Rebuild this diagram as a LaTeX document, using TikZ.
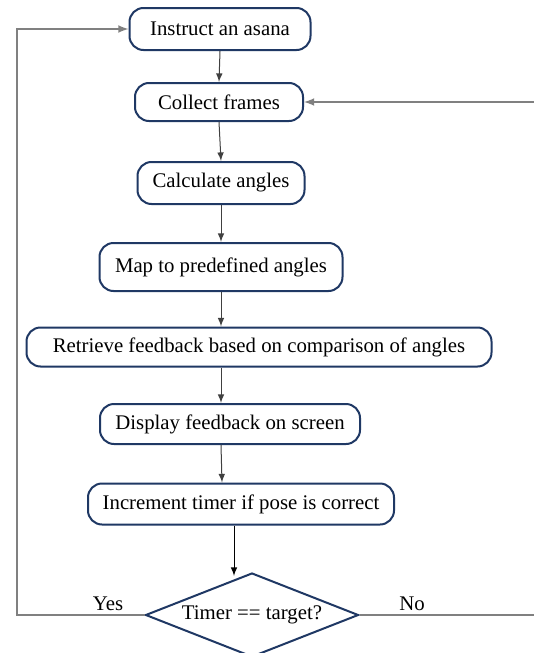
\documentclass[tikz,border=0pt]{standalone}
\usepackage{fontspec}
\setmainfont{Liberation Serif}
\usepackage{xcolor}
\usepackage{tikz}
\usetikzlibrary{shapes.geometric}

\definecolor{boxblue}{HTML}{1F3864}
\definecolor{flowgray}{HTML}{404040}
\definecolor{loopgray}{HTML}{808080}

\tikzset{
  stepbox/.style={draw=boxblue, line width=1pt, rounded corners=7pt, fill=white,
    inner sep=0pt, font=\fontsize{10.4}{12}\selectfont},
  decision/.style={draw=boxblue, line width=1pt, diamond, shape aspect=2.54, inner sep=0pt, fill=white,
    minimum width=106.5pt, minimum height=42pt, font=\fontsize{10.4}{12}\selectfont},
  flow/.style={-latex, draw=flowgray, line width=0.5pt},
  loop/.style={-latex, draw=loopgray, line width=0.75pt},
  branchlabel/.style={font=\fontsize{10.4}{12}\selectfont}
}

\begin{document}
\begin{tikzpicture}[x=0.5pt, y=-0.5pt]
                    \clip (0,0) rectangle (534,653);
                    \fill[white] (0,0) rectangle (534,653);

                    % Steps
                    \node[stepbox, minimum width=90.5pt, minimum height=21pt] (instruct) at (220,29) {Instruct an asana};
                    \node[stepbox, minimum width=84pt, minimum height=19pt] (collect) at (219,102) {Collect frames};
                    \node[stepbox, minimum width=83.5pt, minimum height=21pt] (calc) at (221,183) {Calculate angles};
                    \node[stepbox, minimum width=121.5pt, minimum height=24pt] (map) at (221,267) {Map to predefined angles};
                    \node[stepbox, minimum width=232.5pt, minimum height=19.5pt] (retrieve) at (259,347) {Retrieve feedback based on comparison of angles};
                    \node[stepbox, minimum width=130pt, minimum height=20pt] (display) at (230,424) {Display feedback on screen};
                    \node[stepbox, minimum width=153pt, minimum height=20.5pt] (timer) at (241,504) {Increment timer if pose is correct};

                    % Decision
                    \node[decision] (check) at (252,615) {\raisebox{-1.5pt}{Timer == target?}};

                    % Loop corners
                    \coordinate (leftrail) at (17,0);
                    \coordinate (rightrail) at (545,0);

                    % Straight flow
                    \draw[flow] (instruct.south) -- (collect.north);
                    \draw[flow] (collect.south) -- (calc.north);
                    \draw[flow] (calc.south) -- (map.north);
                    \draw[flow] (map.south) -- ([xshift=-19pt]retrieve.north);
                    \draw[flow] ([xshift=-19pt]retrieve.south) -- ([xshift=-4.5pt]display.north);
                    \draw[flow] ([xshift=-4.5pt]display.south) -- ([xshift=-9.5pt]timer.north);
                    \draw[-latex, black, line width=0.5pt] ([xshift=-3.5pt]timer.south) -- ([xshift=-3.5pt,yshift=-2pt]timer.south |- check.north);

                    % Branches
                    \draw[loop] (check.west) -- (check.west -| leftrail) |- (instruct.west);
                    \draw[loop] (check.east) -- (check.east -| rightrail) |- (collect.east);
                    \node[branchlabel] (yes) at (108,604) {Yes};
                    \node[branchlabel] (no) at (412,604) {No};
                \end{tikzpicture}
\end{document}
